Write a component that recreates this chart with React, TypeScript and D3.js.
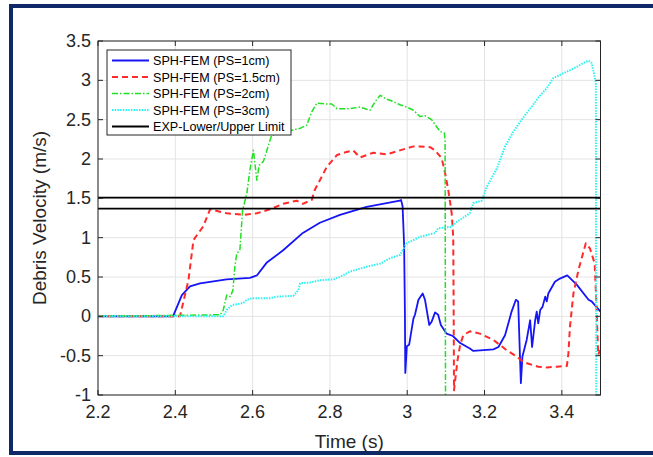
import React from "react";
import * as d3 from "d3";

const xTicks = [2.2, 2.4, 2.6, 2.8, 3.0, 3.2, 3.4];
const yTicks = [-1, -0.5, 0, 0.5, 1, 1.5, 2, 2.5, 3, 3.5];

const blueT = [2.2, 2.394, 2.417, 2.438, 2.464, 2.533, 2.593, 2.611, 2.636, 2.679, 2.73, 2.774, 2.826, 2.895, 2.981, 2.984, 2.988, 2.992, 2.994, 2.995, 2.999, 3.005, 3.016, 3.02, 3.029, 3.04, 3.046, 3.057, 3.063, 3.072, 3.08, 3.087, 3.102, 3.118, 3.137, 3.162, 3.171, 3.223, 3.236, 3.253, 3.27, 3.281, 3.287, 3.292, 3.294, 3.298, 3.309, 3.318, 3.323, 3.331, 3.335, 3.339, 3.344, 3.35, 3.357, 3.361, 3.365, 3.382, 3.395, 3.414, 3.439, 3.469, 3.477, 3.5];
const blueV = [0, 0, 0.27, 0.38, 0.42, 0.47, 0.49, 0.52, 0.68, 0.84, 1.06, 1.19, 1.29, 1.39, 1.47, 1.48, 1.4, 0.9, 0.05, -0.72, -0.38, -0.36, -0.03, 0.02, 0.21, 0.29, 0.21, -0.11, -0.07, 0.05, 0.02, -0.11, -0.22, -0.25, -0.34, -0.41, -0.44, -0.42, -0.39, -0.24, 0.06, 0.21, 0.19, -0.56, -0.85, -0.51, -0.3, -0.05, -0.39, -0.05, 0.06, -0.09, 0.08, 0.12, 0.25, 0.19, 0.29, 0.44, 0.48, 0.52, 0.4, 0.21, 0.19, 0.06];

const redT = [2.2, 2.412, 2.434, 2.447, 2.46, 2.472, 2.49, 2.533, 2.576, 2.611, 2.645, 2.679, 2.714, 2.73, 2.753, 2.761, 2.774, 2.792, 2.818, 2.843, 2.86, 2.878, 2.912, 2.947, 2.981, 3.016, 3.033, 3.059, 3.072, 3.089, 3.098, 3.106, 3.115, 3.119, 3.12, 3.121, 3.13, 3.137, 3.145, 3.162, 3.188, 3.223, 3.257, 3.283, 3.3, 3.318, 3.339, 3.361, 3.387, 3.413, 3.417, 3.421, 3.43, 3.443, 3.462, 3.473, 3.485, 3.49, 3.494, 3.499];
const redV = [0, 0, 0.46, 0.97, 1.06, 1.14, 1.36, 1.31, 1.29, 1.31, 1.36, 1.43, 1.47, 1.43, 1.48, 1.61, 1.73, 1.9, 2.05, 2.09, 2.11, 2.02, 2.08, 2.06, 2.11, 2.16, 2.16, 2.15, 2.11, 2.01, 1.82, 1.61, 1.31, 1.01, 0.21, -0.94, -0.56, -0.36, -0.24, -0.19, -0.22, -0.3, -0.43, -0.51, -0.58, -0.61, -0.64, -0.65, -0.64, -0.63, -0.47, -0.13, 0.29, 0.59, 0.93, 0.86, 0.67, 0.08, -0.49, -0.43];

const greenT = [2.2, 2.516, 2.524, 2.533, 2.542, 2.549, 2.554, 2.559, 2.567, 2.574, 2.585, 2.593, 2.602, 2.611, 2.617, 2.628, 2.64, 2.649, 2.671, 2.697, 2.723, 2.74, 2.753, 2.766, 2.787, 2.805, 2.818, 2.852, 2.878, 2.904, 2.917, 2.93, 2.947, 2.964, 2.981, 2.999, 3.016, 3.033, 3.046, 3.063, 3.076, 3.085, 3.096, 3.098, 3.099];
const greenV = [0, 0.02, 0.08, 0.27, 0.25, 0.33, 0.63, 0.8, 0.84, 1.35, 1.56, 1.86, 2.11, 1.73, 1.92, 1.97, 2.16, 2.3, 2.33, 2.36, 2.39, 2.43, 2.6, 2.71, 2.7, 2.7, 2.64, 2.64, 2.66, 2.62, 2.73, 2.81, 2.76, 2.73, 2.69, 2.66, 2.62, 2.54, 2.55, 2.5, 2.41, 2.35, 2.33, 2.24, -1.0];

const cyanT = [2.2, 2.524, 2.533, 2.546, 2.576, 2.585, 2.598, 2.645, 2.662, 2.705, 2.718, 2.723, 2.749, 2.774, 2.809, 2.826, 2.852, 2.895, 2.93, 2.956, 2.981, 2.999, 3.025, 3.033, 3.072, 3.08, 3.115, 3.128, 3.162, 3.171, 3.193, 3.206, 3.232, 3.253, 3.275, 3.296, 3.318, 3.344, 3.361, 3.378, 3.404, 3.43, 3.456, 3.469, 3.477, 3.483, 3.488, 3.489];
const cyanV = [0, 0, 0.08, 0.14, 0.17, 0.21, 0.23, 0.23, 0.25, 0.26, 0.33, 0.42, 0.43, 0.46, 0.47, 0.5, 0.57, 0.63, 0.67, 0.74, 0.78, 0.93, 0.99, 1.01, 1.06, 1.12, 1.14, 1.2, 1.31, 1.44, 1.47, 1.65, 1.88, 2.16, 2.35, 2.5, 2.64, 2.81, 2.9, 3.03, 3.09, 3.15, 3.22, 3.25, 3.22, 3.09, 2.96, -1.0];

const expLimits = [1.37, 1.51];

const legendLabels = ["SPH-FEM (PS=1cm)", "SPH-FEM (PS=1.5cm)", "SPH-FEM (PS=2cm)", "SPH-FEM (PS=3cm)", "EXP-Lower/Upper Limit"];

const styles = [
  { color: "#1515f5", dash: "none", width: 1.8 },
  { color: "#ff2a2a", dash: "6,4", width: 2 },
  { color: "#22e022", dash: "6,2,1.5,2", width: 1.5 },
  { color: "#2ef2f2", dash: "1.5,1.2", width: 2 },
  { color: "#000000", dash: "none", width: 1.8 },
];

const W = 653, H = 457;
const L = 98, R = 600.5, T = 41, B = 395;
const FONT = "Liberation Sans, Arial, sans-serif";

export default function App() {
  const x = d3.scaleLinear().domain([2.2, 3.5]).range([L, R]);
  const y = d3.scaleLinear().domain([-1, 3.5]).range([B, T]);
  const line = d3.line<[number, number]>().x((d) => x(d[0])).y((d) => y(d[1]));
  const zip = (a: number[], b: number[]) => a.map((t, i) => [t, b[i]] as [number, number]);
  const series = [zip(blueT, blueV), zip(redT, redV), zip(greenT, greenV), zip(cyanT, cyanV)];

  const legX = 107, legY = 50, legW = 184, legH = 85, rowH = 16.5;

  return (
    <div style={{ position: "fixed", left: 0, top: 0 }}>
      <svg width={W} height={H} style={{ display: "block", background: "#fff" }}>
        <defs>
          <clipPath id="plotclip">
            <rect x={L} y={T} width={R - L} height={B - T} />
          </clipPath>
        </defs>
        <rect x={11} y={6} width={720} height={447} fill="#fff" stroke="#0e2868" strokeWidth={4} />
        {xTicks.map((t) => (
          <line key={"gx" + t} x1={x(t)} x2={x(t)} y1={T} y2={B} stroke="#e3e3e3" strokeWidth={1} />
        ))}
        {yTicks.map((t) => (
          <line key={"gy" + t} x1={L} x2={R} y1={y(t)} y2={y(t)} stroke="#e3e3e3" strokeWidth={1} />
        ))}
        <g clipPath="url(#plotclip)">
          {series.map((s, i) => (
            <path key={i} d={line(s) || ""} fill="none" stroke={styles[i].color} strokeWidth={styles[i].width} strokeDasharray={styles[i].dash} strokeLinejoin="round" />
          ))}
          {expLimits.map((v) => (
            <line key={"e" + v} x1={L} x2={R} y1={y(v)} y2={y(v)} stroke="#000" strokeWidth={1.8} />
          ))}
        </g>
        <rect x={L} y={T} width={R - L} height={B - T} fill="none" stroke="#262626" strokeWidth={1} />
        {xTicks.map((t) => (
          <g key={"tx" + t}>
            <line x1={x(t)} x2={x(t)} y1={B} y2={B - 5} stroke="#262626" />
            <line x1={x(t)} x2={x(t)} y1={T} y2={T + 5} stroke="#262626" />
            <text x={x(t)} y={B + 23} textAnchor="middle" fontFamily={FONT} fontSize={18} fill="#262626">{String(t)}</text>
          </g>
        ))}
        {yTicks.map((t) => (
          <g key={"ty" + t}>
            <line x1={L} x2={L + 5} y1={y(t)} y2={y(t)} stroke="#262626" />
            <line x1={R} x2={R - 5} y1={y(t)} y2={y(t)} stroke="#262626" />
            <text x={L - 7} y={y(t) + 6} textAnchor="end" fontFamily={FONT} fontSize={18} fill="#262626">{String(t)}</text>
          </g>
        ))}
        <text x={(L + R) / 2} y={448} textAnchor="middle" fontFamily={FONT} fontSize={19} fill="#262626">Time (s)</text>
        <text transform={`translate(46,${(T + B) / 2}) rotate(-90)`} textAnchor="middle" fontFamily={FONT} fontSize={19} fill="#262626">Debris Velocity (m/s)</text>
        <rect x={legX} y={legY} width={legW} height={legH} fill="#fff" stroke="#262626" strokeWidth={1} />
        {legendLabels.map((lab, i) => {
          const cy = legY + 10.5 + i * rowH;
          return (
            <g key={lab}>
              <line x1={112} x2={149} y1={cy} y2={cy} stroke={styles[i].color} strokeWidth={styles[i].width} strokeDasharray={styles[i].dash} />
              <text x={153} y={cy + 4.5} fontFamily={FONT} fontSize={12.6} fill="#000">{lab}</text>
            </g>
          );
        })}
      </svg>
    </div>
  );
}
